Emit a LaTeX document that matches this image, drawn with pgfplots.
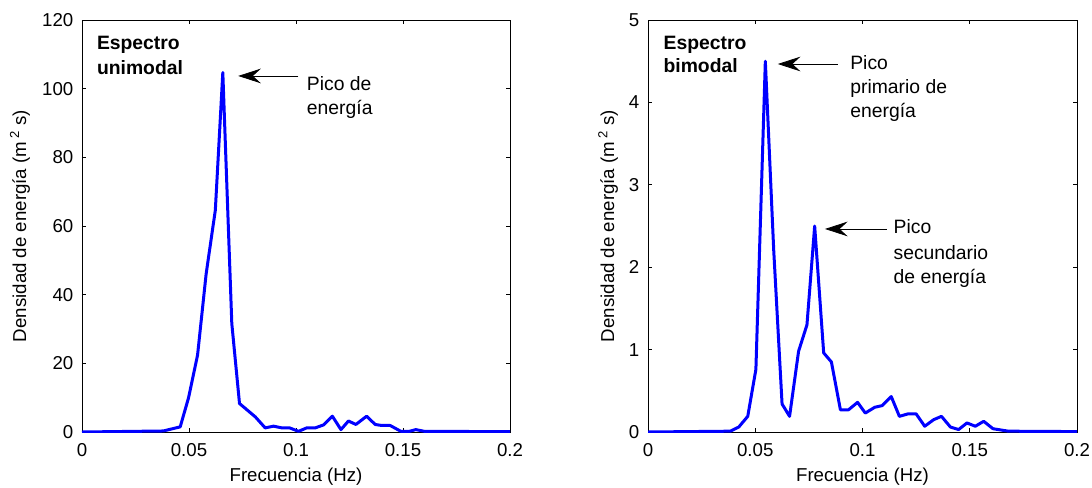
\documentclass[border=0pt]{standalone}
\usepackage{fontspec}
\setmainfont{Liberation Sans}
\usepackage{pgfplots}
\pgfplotsset{compat=1.18}
\usetikzlibrary{arrows.meta}
\definecolor{mblue}{RGB}{0,0,255}

\pgfplotstableread{
x y
0 0
0.038 0.3
0.0459 1.5
0.0498 10
0.054 22.4
0.058 46
0.0623 64.6
0.0658 104.7
0.070 31.6
0.0736 8.3
0.081 4.4
0.0856 1.2
0.0895 1.7
0.0934 1.2
0.097 1.2
0.1012 0.2
0.105 1.2
0.109 1.2
0.113 2.1
0.117 4.6
0.121 0.7
0.1245 3.2
0.128 2.2
0.133 4.6
0.137 2.2
0.140 1.9
0.144 1.9
0.149 0.2
0.153 0.2
0.156 0.7
0.160 0.2
0.2 0.1
}\unimodal

\pgfplotstableread{
x y
0 0
0.0384 0.01
0.0423 0.06
0.0465 0.19
0.0503 0.76
0.0547 4.5
0.0586 2.21
0.0625 0.34
0.066 0.19
0.0702 0.98
0.0741 1.3
0.0777 2.5
0.0819 0.96
0.0855 0.85
0.0897 0.27
0.0935 0.27
0.0977 0.36
0.1013 0.23
0.1057 0.30
0.1091 0.32
0.1134 0.43
0.1172 0.19
0.1212 0.22
0.125 0.22
0.129 0.07
0.1332 0.15
0.1368 0.19
0.141 0.06
0.1448 0.03
0.1487 0.11
0.1526 0.07
0.1565 0.13
0.1608 0.04
0.168 0.01
0.2 0.005
}\bimodal

\pgfplotsset{
  myax/.style={
    scale only axis,
    width=321pt, height=309pt,
    xmin=0, xmax=0.2,
    xtick={0,0.05,0.1,0.15,0.2},
    xticklabels={0,0.05,0.1,0.15,0.2},
    tick align=inside,
    major tick length=3pt,
    axis line style={line width=0.6pt},
    every tick/.style={black, line width=0.6pt},
    tick label style={font=\fontsize{14}{16}\selectfont},
    label style={font=\fontsize{14}{16}\selectfont},
    /pgf/number format/assume math mode=true,
    xticklabel style={yshift=-5pt},
    yticklabel style={xshift=-3pt},
    xlabel={Frecuencia (Hz)},
    ylabel={Densidad de energía (m\,\textsuperscript{2} s)},
    every axis x label/.append style={at={(axis description cs:0.5,-0.109)}, anchor=center},
    at={(0,0)}, anchor=south west,
  },
}
\tikzset{
  ann/.style={anchor=base west, font=\fontsize{14.5}{16}\selectfont, inner sep=0},
  annb/.style={anchor=base west, font=\fontsize{14.5}{16}\selectfont\bfseries, inner sep=0},
  arr/.style={line width=0.6pt, -{Stealth[length=17pt,width=11pt,inset=6pt]}},
}

\begin{document}
\begin{tikzpicture}
\begin{axis}[myax,
  ymin=0, ymax=120, ytick={0,20,40,60,80,100,120},
  every axis y label/.append style={at={(axis description cs:-0.145,0.5)}, anchor=center},
]
\addplot[mblue, line width=2.25pt, line join=round] table[x=x,y=y] {\unimodal};
\node[annb] at (axis cs:0.0069,111.3) {Espectro};
\node[annb] at (axis cs:0.0069,104.2) {unimodal};
\node[ann] at (axis cs:0.105,99.6) {Pico de};
\node[ann] at (axis cs:0.105,92.6) {energía};
\draw[arr] (axis cs:0.1011,103.7) -- (axis cs:0.0730,103.7);
\end{axis}

\begin{axis}[myax,
  at={(424.5pt,0)}, width=321.75pt,
  ymin=0, ymax=5, ytick={0,1,2,3,4,5},
  every axis y label/.append style={at={(axis description cs:-0.093,0.5)}, anchor=center},
]
\addplot[mblue, line width=2.25pt, line join=round] table[x=x,y=y] {\bimodal};
\node[annb] at (axis cs:0.00715,4.644) {Espectro};
\node[annb] at (axis cs:0.00715,4.361) {bimodal};
\draw[arr] (axis cs:0.0884,4.466) -- (axis cs:0.0605,4.466);
\node[ann] at (axis cs:0.0942,4.401) {Pico};
\node[ann] at (axis cs:0.0942,4.110) {primario de};
\node[ann] at (axis cs:0.0942,3.819) {energía};
\draw[arr] (axis cs:0.1113,2.464) -- (axis cs:0.0825,2.464);
\node[ann] at (axis cs:0.1144,2.403) {Pico};
\node[ann] at (axis cs:0.1144,2.096) {secundario};
\node[ann] at (axis cs:0.1144,1.805) {de energía};
\end{axis}
\pgfresetboundingbox
\path[use as bounding box] (-61.5pt,-41.25pt) rectangle (757.5pt,324pt);
\end{tikzpicture}
\end{document}
